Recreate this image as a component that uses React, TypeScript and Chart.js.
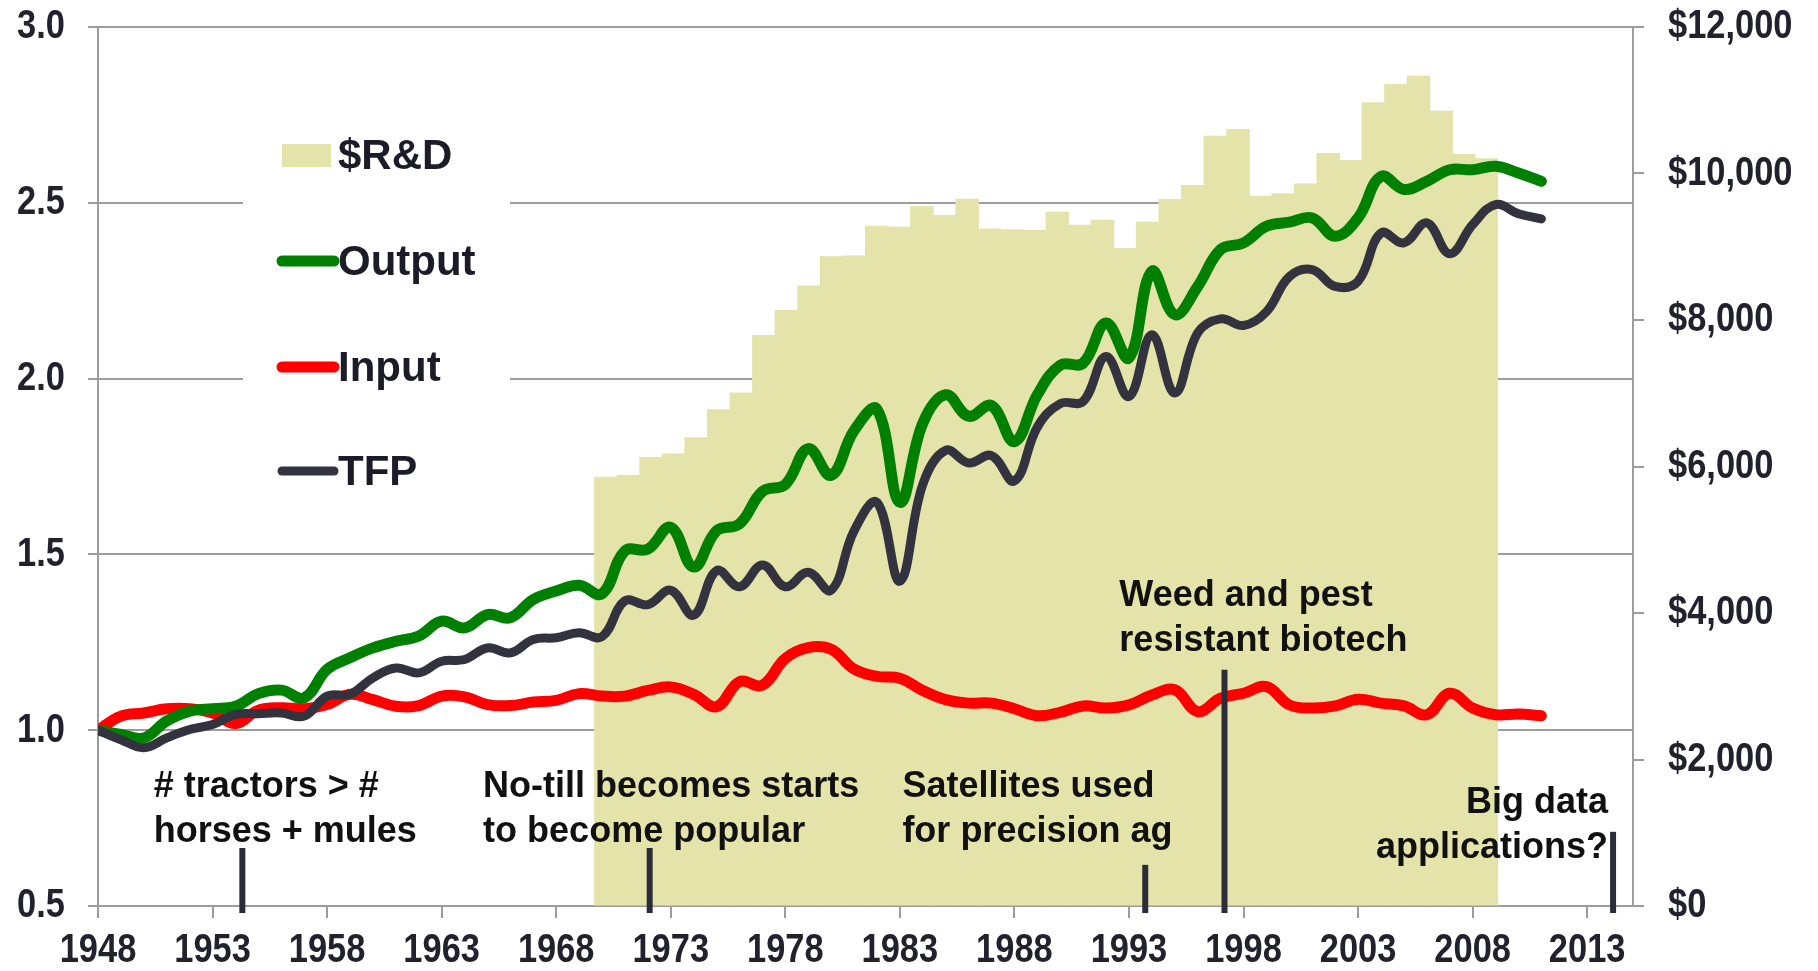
import React, { useEffect, useRef } from "react";
import { Chart, registerables, LinearScale } from "chart.js";

// ---------- data ----------
const years = [
  1948, 1949, 1950, 1951, 1952, 1953, 1954, 1955, 1956, 1957,
  1958, 1959, 1960, 1961, 1962, 1963, 1964, 1965, 1966, 1967,
  1968, 1969, 1970, 1971, 1972, 1973, 1974, 1975, 1976, 1977,
  1978, 1979, 1980, 1981, 1982, 1983, 1984, 1985, 1986, 1987,
  1988, 1989, 1990, 1991, 1992, 1993, 1994, 1995, 1996, 1997,
  1998, 1999, 2000, 2001, 2002, 2003, 2004, 2005, 2006, 2007,
  2008, 2009, 2010, 2011,
];

const outputIndex = [
  1.0, 0.988, 0.978, 1.026, 1.054, 1.061, 1.068, 1.104, 1.114, 1.092,
  1.173, 1.206, 1.234, 1.253, 1.268, 1.31, 1.291, 1.329, 1.32, 1.372,
  1.396, 1.412, 1.388, 1.51, 1.515, 1.577, 1.464, 1.567, 1.587, 1.679,
  1.699, 1.801, 1.725, 1.852, 1.913, 1.648, 1.873, 1.954, 1.893, 1.923,
  1.821, 1.954, 2.038, 2.044, 2.158, 2.059, 2.305, 2.182, 2.262, 2.367,
  2.386, 2.433, 2.445, 2.457, 2.405, 2.457, 2.575, 2.538, 2.561, 2.594,
  2.594, 2.604, 2.585, 2.561,
];

const inputIndex = [
  1.0, 1.04, 1.049, 1.061, 1.061, 1.049, 1.019, 1.057, 1.064, 1.061,
  1.073, 1.102, 1.087, 1.068, 1.07, 1.097, 1.095, 1.073, 1.07, 1.08,
  1.085, 1.104, 1.097, 1.097, 1.113, 1.123, 1.102, 1.067, 1.138, 1.128,
  1.204, 1.235, 1.23, 1.174, 1.153, 1.148, 1.113, 1.087, 1.077, 1.077,
  1.061, 1.041, 1.051, 1.069, 1.063, 1.072, 1.1, 1.115, 1.053, 1.091,
  1.105, 1.124, 1.072, 1.063, 1.069, 1.088, 1.077, 1.069, 1.044, 1.105,
  1.063, 1.044, 1.046, 1.041,
];

const tfpIndex = [
  1.0, 0.973, 0.95, 0.978, 1.002, 1.016, 1.045, 1.047, 1.049, 1.04,
  1.097, 1.102, 1.149, 1.177, 1.163, 1.196, 1.201, 1.234, 1.22, 1.258,
  1.263, 1.277, 1.266, 1.368, 1.357, 1.398, 1.327, 1.454, 1.408, 1.47,
  1.408, 1.449, 1.398, 1.567, 1.648, 1.424, 1.699, 1.796, 1.76, 1.781,
  1.709, 1.862, 1.929, 1.935, 2.063, 1.949, 2.125, 1.959, 2.13, 2.17,
  2.151, 2.19, 2.29, 2.31, 2.262, 2.277, 2.414, 2.386, 2.443, 2.355,
  2.438, 2.495, 2.469, 2.454,
];

const rdYears = [
  1970, 1971, 1972, 1973, 1974, 1975, 1976, 1977, 1978, 1979,
  1980, 1981, 1982, 1983, 1984, 1985, 1986, 1987, 1988, 1989,
  1990, 1991, 1992, 1993, 1994, 1995, 1996, 1997, 1998, 1999,
  2000, 2001, 2002, 2003, 2004, 2005, 2006, 2007, 2008, 2009,
];

const rdSpending = [
  5853, 5878, 6122, 6172, 6392, 6774, 7003, 7788, 8130, 8463,
  8864, 8875, 9281, 9266, 9550, 9428, 9648, 9241, 9231, 9222,
  9470, 9293, 9361, 8975, 9334, 9644, 9835, 10509, 10600, 9689,
  9722, 9858, 10272, 10177, 10965, 11215, 11328, 10850, 10259, 10200,
];

const xTickYears = [1948, 1953, 1958, 1963, 1968, 1973, 1978, 1983, 1988, 1993, 1998, 2003, 2008, 2013];

// event markers (year, top of marker on left axis)
const eventYears = [1954.3, 1972.08, 1993.71, 1997.17, 2014.13];
const eventTops = [0.665, 0.665, 0.617, 1.172, 0.711];
const eventBase = 0.48;

// event captions: anchor (year, left-axis value of first baseline)
const captionLines = [
  ["# tractors > #", "horses + mules"],
  ["No-till becomes starts", "to become popular"],
  ["Satellites used", "for precision ag"],
  ["Weed and pest", "resistant biotech"],
  ["Big data", "applications?"],
];
const captionYears = [1950.43, 1964.81, 1983.11, 1992.58, 2013.91];
const captionValues = [0.81, 0.81, 0.81, 1.354, 0.765];
const captionAlign = ["left", "left", "left", "left", "right"];

// ---------- styles ----------
const GREEN = "#008000";
const RED = "#ff0000";
const DARK = "#33333f";
const KHAKI = "#e4e3aa";
const GRID = "#9c9c9c";
const TICK_TEXT = "#22222e";
const TEXT_FONT = "'Liberation Sans', Arial, sans-serif";
const NARROW = 0.84;

// Linear scale whose tick labels are drawn horizontally condensed (Arial Narrow look)
class NarrowLinearScale extends LinearScale {
  static id = "narrowLinear";
  static defaults = LinearScale.defaults;
  drawLabels(chartArea: any) {
    const opts: any = (this as any).options.ticks;
    if (!opts.display) return;
    const ctx = (this as any).ctx;
    const items = (this as any).getLabelItems(chartArea);
    for (const item of items) {
      const o = item.options;
      ctx.save();
      ctx.translate(o.translation[0], o.translation[1]);
      if (o.rotation) ctx.rotate(o.rotation);
      ctx.scale(NARROW, 1);
      ctx.font = item.font.string;
      ctx.fillStyle = o.color;
      ctx.textAlign = o.textAlign;
      ctx.textBaseline = o.textBaseline;
      ctx.fillText(String(item.label), 0, item.textOffset);
      ctx.restore();
    }
  }
}

Chart.register(...registerables, NarrowLinearScale);

const zeroPad = (s: any) => {
  s.paddingLeft = 0;
  s.paddingRight = 0;
  s.paddingTop = 0;
  s.paddingBottom = 0;
};

const insideLegend = {
  id: "insideLegend",
  beforeDatasetsDraw(chart: any) {
    const ctx = chart.ctx;
    ctx.save();
    ctx.fillStyle = "#ffffff";
    ctx.fillRect(243, 100, 267, 410);
    const rows = [155, 261, 367, 471];
    const ds = chart.data.datasets;
    const order = [3, 0, 1, 2];
    ctx.font = `bold 42px ${TEXT_FONT}`;
    ctx.textBaseline = "middle";
    ctx.textAlign = "left";
    order.forEach((di: number, i: number) => {
      const d = ds[di];
      const y = rows[i];
      if (d.type === "bar") {
        ctx.fillStyle = d.backgroundColor;
        ctx.fillRect(282, y - 11, 49, 23);
      } else {
        ctx.strokeStyle = d.borderColor;
        ctx.lineWidth = d.borderWidth;
        ctx.lineCap = "round";
        ctx.beginPath();
        ctx.moveTo(282, y);
        ctx.lineTo(334, y);
        ctx.stroke();
      }
      ctx.fillStyle = "#1c1c28";
      ctx.fillText(d.label, 338, y + 2);
    });
    ctx.restore();
  },
};

const eventsPlugin = {
  id: "events",
  afterDatasetsDraw(chart: any) {
    const ctx = chart.ctx;
    const xs = chart.scales.x;
    const ys = chart.scales.y;
    ctx.save();
    ctx.strokeStyle = "#2c2c38";
    ctx.lineWidth = 6;
    ctx.lineCap = "butt";
    eventYears.forEach((yr, i) => {
      const px = xs.getPixelForValue(yr);
      ctx.beginPath();
      ctx.moveTo(px, ys.getPixelForValue(eventTops[i]));
      ctx.lineTo(px, ys.getPixelForValue(eventBase));
      ctx.stroke();
    });
    ctx.fillStyle = "#111111";
    ctx.font = `bold 36px ${TEXT_FONT}`;
    ctx.textBaseline = "alphabetic";
    captionLines.forEach((lines, i) => {
      const px = xs.getPixelForValue(captionYears[i]);
      const py = ys.getPixelForValue(captionValues[i]);
      ctx.textAlign = captionAlign[i];
      lines.forEach((t, j) => ctx.fillText(t, px, py + j * 45));
    });
    ctx.restore();
  },
};

export default function App() {
  const ref = useRef<HTMLCanvasElement | null>(null);

  useEffect(() => {
    document.body.style.margin = "0";
    const canvas = ref.current;
    if (!canvas) return;
    Chart.defaults.font.family = TEXT_FONT;

    const lineDs = (label: string, values: number[], color: string, width: number, order: number) => ({
      type: "line",
      label,
      data: years.map((yr, i) => ({ x: yr, y: values[i] })),
      xAxisID: "x",
      yAxisID: "y",
      borderColor: color,
      backgroundColor: color,
      borderWidth: width,
      pointRadius: 0,
      tension: 0.4,
      borderCapStyle: "round",
      borderJoinStyle: "round",
      fill: false,
      order,
    });

    const tickFont = { family: TEXT_FONT, size: 41, weight: "bold" };

    const rdDataset: any = {
      type: "bar",
      label: "$R&D",
      data: rdYears.map((yr, i) => ({ x: yr, y: rdSpending[i] })),
      xAxisID: "x2",
      yAxisID: "yR",
      backgroundColor: KHAKI,
      borderWidth: 0,
      grouped: false,
      barPercentage: 1.0,
      categoryPercentage: 1.0,
      inflateAmount: 0.5,
      order: 10,
    };

    const chart = new Chart(canvas, {
      type: "bar",
      data: {
        datasets: [
          lineDs("Output", outputIndex, GREEN, 11, 1),
          lineDs("Input", inputIndex, RED, 11, 2),
          lineDs("TFP", tfpIndex, DARK, 9, 0),
          rdDataset,
        ] as any,
      },
      options: {
        responsive: false,
        animation: false,
        devicePixelRatio: 1,
        layout: { padding: { top: 27, left: 0, right: 0, bottom: 0 } },
        plugins: {
          legend: { display: false },
          tooltip: { enabled: false },
        },
        scales: {
          x: {
            type: "narrowLinear",
            position: "bottom",
            offset: false,
            min: 1948,
            max: 2015,
            afterBuildTicks: (s: any) => {
              s.ticks = xTickYears.map((v) => ({ value: v }));
            },
            afterFit: (s: any) => {
              s.height = 65;
              zeroPad(s);
            },
            ticks: {
              callback: (v: any) => String(v),
              font: tickFont,
              color: TICK_TEXT,
              padding: 8,
              maxRotation: 0,
              autoSkip: false,
            },
            grid: { offset: false, drawOnChartArea: false, drawTicks: true, tickLength: 12, color: GRID, lineWidth: 2 },
            border: { display: true, color: GRID, width: 2 },
          },
          x2: {
            type: "linear",
            position: "bottom",
            display: false,
            offset: false,
            min: 1947.5,
            max: 2015.5,
            grid: { offset: false },
            afterBuildTicks: (s: any) => {
              s.ticks = rdYears.map((v) => ({ value: v }));
            },
          },
          y: {
            type: "narrowLinear",
            position: "left",
            min: 0.5,
            max: 3.0,
            afterFit: (s: any) => {
              s.width = 98;
              zeroPad(s);
            },
            ticks: {
              stepSize: 0.5,
              callback: (v: any) => Number(v).toFixed(1),
              font: tickFont,
              color: TICK_TEXT,
              padding: 23,
            },
            grid: { drawOnChartArea: true, drawTicks: true, tickLength: 10, color: GRID, lineWidth: 2 },
            border: { display: true, color: GRID, width: 2 },
          },
          yR: {
            type: "narrowLinear",
            position: "right",
            min: 0,
            max: 12000,
            afterFit: (s: any) => {
              s.width = 185;
              zeroPad(s);
            },
            ticks: {
              stepSize: 2000,
              callback: (v: any) => "$" + Number(v).toLocaleString("en-US"),
              font: tickFont,
              color: TICK_TEXT,
              padding: 24,
            },
            grid: { drawOnChartArea: false, drawTicks: true, tickLength: 11, color: GRID, lineWidth: 2 },
            border: { display: true, color: GRID, width: 2 },
          },
        },
      } as any,
      plugins: [insideLegend, eventsPlugin],
    });

    // one touching column per year on the bar axis, centred on its year
    const x2: any = chart.scales.x2;
    const step = Math.abs(x2.getPixelForValue(rdYears[1]) - x2.getPixelForValue(rdYears[0]));
    rdDataset.barThickness = step;
    chart.update();

    return () => chart.destroy();
  }, []);

  return (
    <div style={{ width: 1818, height: 971, overflow: "hidden", background: "#fff" }}>
      <canvas ref={ref} width={1818} height={971} style={{ display: "block", width: 1818, height: 971 }} />
    </div>
  );
}
